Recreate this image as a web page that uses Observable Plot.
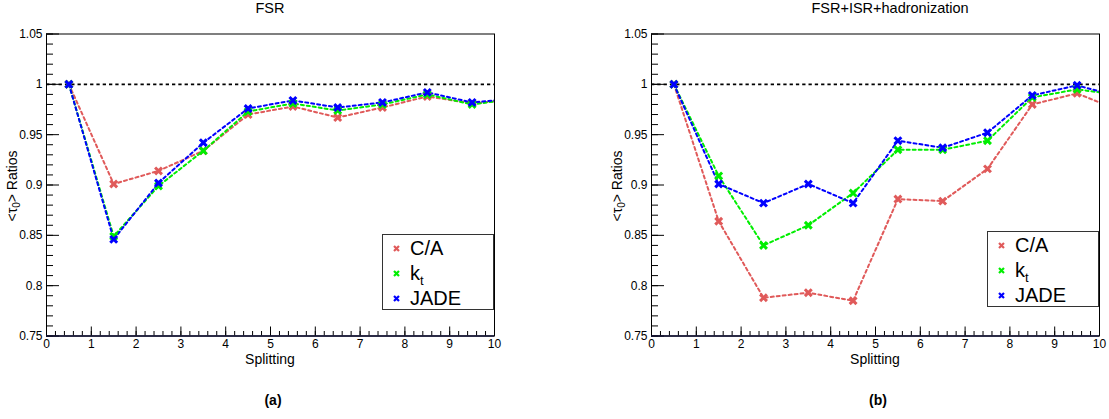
<!DOCTYPE html>
<html><head><meta charset="utf-8">
<script src="https://cdn.jsdelivr.net/npm/d3@7"></script>
<script src="https://cdn.jsdelivr.net/npm/@observablehq/plot@0.6"></script>
<style>
body{margin:0;background:#fff;font-family:"Liberation Sans",Arial,Helvetica,sans-serif;color:#000;}
#root{position:relative;width:1109px;height:419px;overflow:hidden;background:#fff;}
.abs{position:absolute;white-space:nowrap;}
.title{font-size:14.5px;line-height:14px;transform:translateX(-50%);}
.xlab{font-size:14px;line-height:14px;transform:translateX(-50%);}
.cap{font-size:14px;line-height:14px;font-weight:bold;transform:translateX(-50%);}
.ylab{font-size:14px;line-height:14px;transform:translate(-50%,-50%) rotate(-90deg);}
.ylab sub{font-size:10px;vertical-align:-3px;line-height:0;}
.legend{border:1px solid #333;background:#fff;box-sizing:border-box;width:112px;height:76px;}
.legend .row{position:absolute;left:0;height:20px;line-height:20px;font-size:20px;}
.legend .row svg{position:absolute;left:10px;top:7px;}
.legend .row span{position:absolute;left:27px;top:0;}
.legend sub{font-size:13px;vertical-align:-5px;line-height:0;}
</style>
</head><body>
<div id="root"></div>
<script>
// ---- data ----
const splitting = [0.5, 1.5, 2.5, 3.5, 4.5, 5.5, 6.5, 7.5, 8.5, 9.5, 10.5];
const seriesNames = ["C/A", "kt", "JADE"];
const seriesColors = ["#e05a5a", "#00ee00", "#0000ff"];
const legendLabels = ["C/A", "k<sub>t</sub>", "JADE"];
const fsrCA   = [1.000, 0.901, 0.914, 0.934, 0.970, 0.978, 0.967, 0.977, 0.988, 0.981, 0.985];
const fsrKt   = [1.000, 0.849, 0.899, 0.934, 0.973, 0.981, 0.974, 0.980, 0.990, 0.980, 0.986];
const fsrJADE = [1.000, 0.846, 0.902, 0.942, 0.976, 0.984, 0.977, 0.982, 0.992, 0.982, 0.986];
const fullCA   = [1.000, 0.864, 0.788, 0.793, 0.785, 0.886, 0.884, 0.916, 0.980, 0.991, 0.973];
const fullKt   = [1.000, 0.909, 0.840, 0.860, 0.892, 0.935, 0.935, 0.944, 0.987, 0.995, 0.989];
const fullJADE = [1.000, 0.901, 0.882, 0.901, 0.882, 0.944, 0.937, 0.952, 0.989, 0.999, 0.987];
const yMajor = [0.75, 0.8, 0.85, 0.9, 0.95, 1, 1.05];
const yTickLabels = ["0.75", "0.8", "0.85", "0.9", "0.95", "1", "1.05"];
const xMajor = [0, 1, 2, 3, 4, 5, 6, 7, 8, 9, 10];
const xTickLabels = ["0", "1", "2", "3", "4", "5", "6", "7", "8", "9", "10"];
const panelTitles = ["FSR", "FSR+ISR+hadronization"];
const panelCaptions = ["(a)", "(b)"];
const xTitle = "Splitting";
const yTitle = "&lt;τ<sub>0</sub>&gt; Ratios";
const refLevel = 1;

const yMinor = d3.range(75, 106).map(v => v / 100);
const xMinor = d3.range(0, 51).map(v => v / 5);

function panel(valuesList, width, ml, mr) {
  const H = 370, mt = 33.5, mb = 34.5;
  const pw = width - ml - mr, ph = H - mt - mb;
  const marks = [Plot.ruleY([refLevel], {stroke: "#000", strokeWidth: 1.6, strokeDasharray: "3.3,3"})];
  valuesList.forEach((vals, k) => {
    const rows = splitting.map((x, i) => ({x, y: vals[i]}));
    marks.push(Plot.line(rows, {x: "x", y: "y", stroke: seriesColors[k], strokeWidth: 2, strokeDasharray: "3,3", clip: true}));
  });
  valuesList.forEach((vals, k) => {
    const rows = splitting.map((x, i) => ({x, y: vals[i]})).filter(d => d.x < 10);
    marks.push(Plot.dot(rows, {x: "x", y: "y", symbol: "times", r: 3.2, stroke: seriesColors[k], strokeWidth: 3}));
  });
  marks.push(
    Plot.tickY(yMajor, {y: d => d, insetRight: pw - 13, stroke: "#000"}),
    Plot.tickY(yMinor, {y: d => d, insetRight: pw - 7, stroke: "#000"}),
    Plot.tickX(xMajor, {x: d => d, insetTop: ph - 9, stroke: "#000"}),
    Plot.tickX(xMinor, {x: d => d, insetTop: ph - 4.5, stroke: "#000"}),
    Plot.axisY(yMajor, {tickSize: 0, tickPadding: 4, label: null, fontSize: 12, tickFormat: d => yTickLabels[yMajor.indexOf(d)]}),
    Plot.axisX(xMajor, {tickSize: 0, tickPadding: 3, label: null, fontSize: 12, tickFormat: d => xTickLabels[xMajor.indexOf(d)]}),
    Plot.frame({stroke: "#000", strokeWidth: 1}),
    Plot.ruleY([0.75], {stroke: "#111133", strokeWidth: 1.6})
  );
  return Plot.plot({
    width, height: H, marginLeft: ml, marginRight: mr, marginTop: mt, marginBottom: mb,
    x: {domain: [0, 10]},
    y: {domain: [0.75, 1.05]},
    style: {fontFamily: '"Liberation Sans", Arial, sans-serif', fontSize: "12px", color: "#000", background: "transparent", overflow: "visible"},
    marks
  });
}

const root = document.getElementById("root");
function place(el, left, top) { el.style.position = "absolute"; el.style.left = left + "px"; el.style.top = top + "px"; root.appendChild(el); return el; }
function text(cls, html, left, top) { const d = document.createElement("div"); d.className = "abs " + cls; d.innerHTML = html; return place(d, left, top); }

function legend(left, top) {
  const box = document.createElement("div");
  box.className = "legend";
  [12.5, 37.5, 63].forEach((cy, i) => {
    const row = document.createElement("div");
    row.className = "row";
    row.style.top = (cy - 10) + "px";
    row.style.width = "110px";
    row.innerHTML = `<svg width="7" height="7" viewBox="0 0 7 7"><path d="M1,1L6,6M6,1L1,6" stroke="${seriesColors[i]}" stroke-width="2.2"/></svg><span>${legendLabels[i]}</span>`;
    box.appendChild(row);
  });
  return place(box, left, top);
}

place(panel([fsrCA, fsrKt, fsrJADE], 555, 46, 61), 0, 0);
place(panel([fullCA, fullKt, fullJADE], 554, 96, 10), 555, 0);

text("title", panelTitles[0], 270, 1);
text("title", panelTitles[1], 890, 1);
text("xlab", xTitle, 270, 352);
text("xlab", xTitle, 875, 352);
text("cap", panelCaptions[0], 273, 393);
text("cap", panelCaptions[1], 878, 393);
text("ylab", yTitle, 12, 186);
text("ylab", yTitle, 617, 186);
legend(382, 234);
legend(987, 231);
</script>
</body></html>
